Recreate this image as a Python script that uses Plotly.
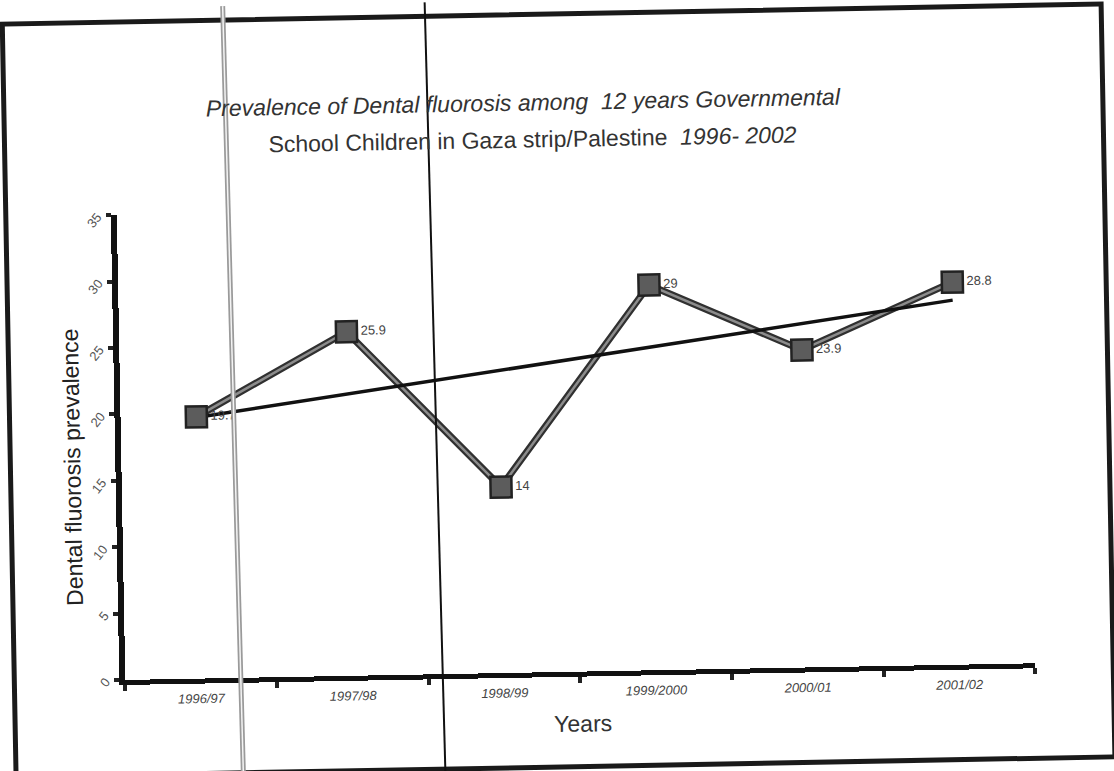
import numpy as np
import plotly.graph_objects as go

# School years and dental fluorosis prevalence (%)
years = ["1996/97", "1997/98", "1998/99", "1999/2000", "2000/01", "2001/02"]
prevalence = [19.7, 25.9, 14, 29, 23.9, 28.8]
y_ticks = [0, 5, 10, 15, 20, 25, 30, 35]

W, H = 1114, 771
L, R, T, B = 120, 84, 207, 99  # plot margins in px
FONT = "Liberation Sans, Arial, sans-serif"

def px(x):
    return (x - L) / (W - L - R)

def py(y):
    return (H - B - y) / (H - T - B)

# Linear trend over the six years
idx = np.arange(len(prevalence))
slope, intercept = np.polyfit(idx, prevalence, 1)
trend = [intercept + slope * i for i in (0, len(prevalence) - 1)]

fig = go.Figure()

# Thick series line: dark outline with lighter core
fig.add_trace(go.Scatter(
    x=years, y=prevalence, mode="lines",
    line=dict(color="#303030", width=7), hoverinfo="skip", showlegend=False))
fig.add_trace(go.Scatter(
    x=years, y=prevalence, mode="lines",
    line=dict(color="#8c8c8c", width=2.5), hoverinfo="skip", showlegend=False))

# Linear trend line
fig.add_trace(go.Scatter(
    x=[years[0], years[-1]], y=trend, mode="lines",
    line=dict(color="#111111", width=3.5), showlegend=False))

# Square markers with value labels
fig.add_trace(go.Scatter(
    x=years, y=prevalence, mode="markers+text",
    marker=dict(symbol="square", size=21, color="#5c5c5c",
                line=dict(color="#222222", width=2.5)),
    text=[f"{v:g}" for v in prevalence], textposition="middle right",
    textfont=dict(family=FONT, size=13, color="#444444"),
    showlegend=False))

fig.update_layout(
    width=W, height=H,
    margin=dict(l=L, r=R, t=T, b=B),
    paper_bgcolor="white", plot_bgcolor="white",
    font=dict(family=FONT, color="#333333"),
    xaxis=dict(
        type="category", range=[-0.5, len(years) - 0.5],
        showline=True, linecolor="#111111", linewidth=5,
        ticks="outside", tickson="boundaries", ticklen=6, tickwidth=4, tickcolor="#222222",
        showgrid=False, zeroline=False,
        tickfont=dict(size=13, color="#444444", family=FONT, style="italic"),
        ticklabelstandoff=4,
    ),
    yaxis=dict(
        range=[0, 35], tickvals=y_ticks,
        showline=True, linecolor="#111111", linewidth=6,
        ticks="outside", ticklen=5, tickwidth=4, tickcolor="#222222",
        showgrid=False, zeroline=False, tickangle=-50,
        tickfont=dict(size=13, color="#555555"),
        ticklabelstandoff=6,
    ),
)

annotations = [
    dict(text="<i>Prevalence of Dental fluorosis among  12 years Governmental</i>",
         x=px(528), y=py(101.5), font=dict(size=23, color="#333333")),
    dict(text="School Children in Gaza strip/Palestine  <i>1996- 2002</i>",
         x=px(537), y=py(139), font=dict(size=23, color="#333333")),
    dict(text="Dental fluorosis prevalence", textangle=-90,
         x=px(71), y=py(459), font=dict(size=23, color="#222222")),
    dict(text="Years", x=px(577), y=py(724), font=dict(size=23, color="#333333")),
]
for a in annotations:
    a.update(xref="paper", yref="paper", showarrow=False, xanchor="center", yanchor="middle")
fig.update_layout(annotations=annotations)

# Page frame and ruled lines on the sheet
shapes = [
    dict(type="rect", x0=px(9), x1=px(1108), y0=py(767), y1=py(14),
         line=dict(color="#1a1a1a", width=5)),
    dict(type="line", x0=px(229.5), x1=px(236.5), y0=py(-20), y1=py(790),
         line=dict(color="#9a9a9a", width=5)),
    dict(type="line", x0=px(229.5), x1=px(236.5), y0=py(-20), y1=py(790),
         line=dict(color="#f4f4f4", width=1.5)),
    dict(type="line", x0=px(431.5), x1=px(438.5), y0=py(-20), y1=py(790),
         line=dict(color="#111111", width=2)),
]
for s in shapes:
    s.update(xref="paper", yref="paper", layer="above")
fig.update_layout(shapes=shapes)

# The sheet sits slightly askew
tilt_js = (
    "var gd = document.getElementById('{plot_id}');"
    "gd.style.transformOrigin = '50% 50%';"
    "gd.style.transform = 'rotate(-1.05deg)';"
)

fig.write_html("out.html", post_script=tilt_js)
